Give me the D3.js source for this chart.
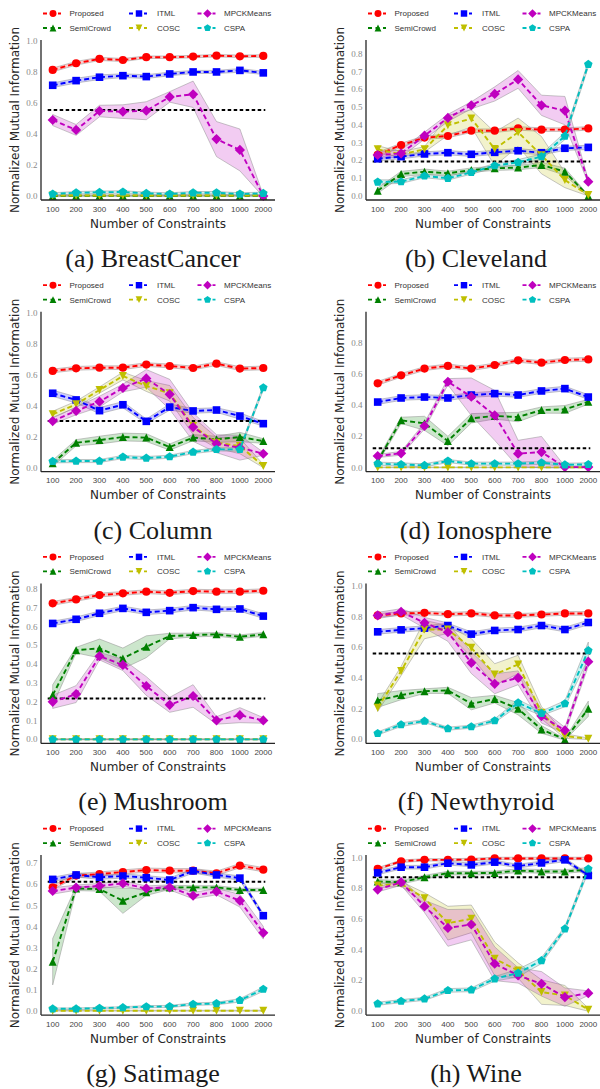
<!DOCTYPE html>
<html><head><meta charset="utf-8">
<script src="https://cdn.jsdelivr.net/npm/d3@7"></script>
<style>
html,body{margin:0;padding:0;background:#fff;}
svg{display:block;}
</style></head>
<body>
<script>
// ---------- data ----------
const categories = ["100","200","300","400","500","600","700","800","1000","2000"];
const methods = ["Proposed","SemiCrowd","ITML","COSC","MPCKMeans","CSPA"];
const methodColors = ["#ff0000","#008000","#0000ff","#bfbf00","#bf00bf","#00bfbf"];
const methodMarkers = ["circle","triangleUp","square","triangleDown","diamond","pentagon"];
const datasetNames = ["(a) BreastCancer","(b) Cleveland","(c) Column","(d) Ionosphere","(e) Mushroom","(f) Newthyroid","(g) Satimage","(h) Wine"];
const yMaxes = [1.006, 0.879, 1.006, 0.998, 0.830, 1.018, 0.739, 1.018];
const yTickSets = [
  [0,0.2,0.4,0.6,0.8,1.0],
  [0,0.1,0.2,0.3,0.4,0.5,0.6,0.7,0.8],
  [0,0.2,0.4,0.6,0.8,1.0],
  [0,0.2,0.4,0.6,0.8],
  [0,0.1,0.2,0.3,0.4,0.5,0.6,0.7,0.8],
  [0,0.2,0.4,0.6,0.8,1.0],
  [0,0.1,0.2,0.3,0.4,0.5,0.6,0.7],
  [0,0.2,0.4,0.6,0.8,1.0]
];
const baselines = [0.555, 0.195, 0.301, 0.124, 0.218, 0.561, 0.613, 0.874];

// means: order Proposed, SemiCrowd, ITML, COSC, MPCKMeans, CSPA
const breastCancerMean = [
  [0.813,0.856,0.884,0.877,0.895,0.895,0.899,0.905,0.901,0.903],
  [0.0,0.002,0.002,0.002,0.001,0.001,0.002,0.002,0.002,0.002],
  [0.714,0.744,0.766,0.776,0.770,0.787,0.800,0.800,0.810,0.794],
  [0.003,0.003,0.003,0.003,0.003,0.003,0.003,0.003,0.003,0.003],
  [0.490,0.426,0.548,0.544,0.550,0.639,0.656,0.367,0.297,0.0],
  [0.013,0.021,0.024,0.026,0.017,0.013,0.021,0.021,0.013,0.017]
];
const breastCancerStd = [
  [0.012,0.012,0.010,0.010,0.008,0.008,0.008,0.008,0.008,0.008],
  [0.004,0.004,0.004,0.004,0.004,0.004,0.004,0.004,0.004,0.004],
  [0.015,0.015,0.015,0.012,0.012,0.012,0.010,0.010,0.012,0.010],
  [0.003,0.003,0.003,0.003,0.003,0.003,0.003,0.003,0.003,0.003],
  [0.036,0.035,0.037,0.044,0.058,0.034,0.085,0.113,0.135,0.005],
  [0.008,0.008,0.008,0.008,0.008,0.008,0.008,0.008,0.008,0.008]
];
const clevelandMean = [
  [0.232,0.287,0.329,0.338,0.368,0.368,0.381,0.374,0.374,0.381],
  [0.030,0.124,0.137,0.128,0.146,0.156,0.160,0.175,0.137,0.0],
  [0.210,0.222,0.237,0.244,0.235,0.246,0.255,0.244,0.269,0.274],
  [0.263,0.235,0.263,0.398,0.437,0.265,0.359,0.230,0.090,0.005],
  [0.231,0.240,0.340,0.440,0.511,0.575,0.657,0.511,0.481,0.081],
  [0.079,0.081,0.113,0.100,0.133,0.171,0.190,0.222,0.338,0.742]
];
const clevelandStd = [
  [0.015,0.010,0.010,0.010,0.010,0.010,0.010,0.010,0.010,0.010],
  [0.015,0.015,0.015,0.012,0.012,0.012,0.012,0.015,0.020,0.005],
  [0.012,0.012,0.012,0.012,0.012,0.012,0.012,0.012,0.012,0.012],
  [0.020,0.015,0.015,0.056,0.048,0.095,0.080,0.105,0.043,0.005],
  [0.020,0.020,0.020,0.020,0.020,0.040,0.050,0.057,0.080,0.010],
  [0.012,0.010,0.010,0.010,0.010,0.012,0.015,0.015,0.020,0.015]
];
const columnMean = [
  [0.624,0.641,0.645,0.645,0.665,0.656,0.643,0.671,0.639,0.643],
  [0.028,0.161,0.178,0.198,0.194,0.133,0.194,0.183,0.198,0.172],
  [0.480,0.437,0.368,0.406,0.299,0.391,0.366,0.372,0.333,0.284],
  [0.344,0.409,0.501,0.591,0.527,0.480,0.269,0.161,0.140,0.011],
  [0.301,0.366,0.426,0.514,0.576,0.473,0.262,0.155,0.129,0.090],
  [0.041,0.043,0.043,0.069,0.062,0.071,0.101,0.118,0.118,0.516]
];
const columnStd = [
  [0.012,0.012,0.012,0.012,0.012,0.012,0.012,0.012,0.012,0.012],
  [0.020,0.020,0.025,0.025,0.025,0.020,0.020,0.020,0.030,0.015],
  [0.020,0.020,0.020,0.020,0.015,0.020,0.015,0.015,0.020,0.015],
  [0.020,0.020,0.020,0.025,0.035,0.050,0.055,0.035,0.050,0.010],
  [0.020,0.025,0.035,0.025,0.057,0.097,0.092,0.058,0.080,0.010],
  [0.010,0.010,0.010,0.010,0.010,0.010,0.010,0.010,0.012,0.015]
];
const ionosphereMean = [
  [0.540,0.591,0.634,0.651,0.634,0.657,0.687,0.672,0.689,0.693],
  [0.043,0.303,0.284,0.171,0.316,0.331,0.324,0.369,0.373,0.422],
  [0.420,0.446,0.452,0.446,0.465,0.474,0.465,0.491,0.506,0.452],
  [0.002,0.002,0.002,0.002,0.002,0.002,0.002,0.002,0.002,0.002],
  [0.075,0.092,0.267,0.550,0.454,0.335,0.090,0.100,0.004,0.004],
  [0.026,0.021,0.015,0.043,0.026,0.026,0.026,0.032,0.019,0.021]
];
const ionosphereStd = [
  [0.012,0.012,0.012,0.012,0.012,0.012,0.012,0.012,0.012,0.012],
  [0.015,0.020,0.045,0.030,0.030,0.020,0.030,0.020,0.025,0.015],
  [0.015,0.015,0.015,0.015,0.015,0.015,0.015,0.015,0.015,0.015],
  [0.002,0.002,0.002,0.002,0.002,0.002,0.002,0.002,0.002,0.002],
  [0.010,0.012,0.020,0.020,0.120,0.160,0.085,0.100,0.005,0.005],
  [0.010,0.010,0.010,0.010,0.010,0.010,0.010,0.010,0.010,0.010]
];
const mushroomMean = [
  [0.724,0.745,0.768,0.777,0.786,0.780,0.789,0.786,0.786,0.791],
  [0.236,0.475,0.484,0.431,0.493,0.550,0.555,0.559,0.546,0.559],
  [0.617,0.639,0.671,0.697,0.676,0.685,0.701,0.692,0.694,0.656],
  [0.001,0.001,0.001,0.001,0.001,0.001,0.001,0.001,0.001,0.001],
  [0.200,0.241,0.443,0.396,0.284,0.184,0.231,0.101,0.129,0.101],
  [0.0,0.0,0.0,0.0,0.0,0.0,0.0,0.0,0.0,0.0]
];
const mushroomStd = [
  [0.010,0.010,0.010,0.010,0.010,0.010,0.010,0.010,0.010,0.010],
  [0.055,0.015,0.050,0.055,0.058,0.015,0.010,0.010,0.010,0.010],
  [0.012,0.012,0.012,0.012,0.012,0.012,0.012,0.012,0.012,0.012],
  [0.002,0.002,0.002,0.002,0.002,0.002,0.002,0.002,0.002,0.002],
  [0.035,0.045,0.020,0.030,0.050,0.040,0.060,0.020,0.040,0.015],
  [0.002,0.002,0.002,0.002,0.002,0.002,0.002,0.002,0.002,0.002]
];
const newthyroidMean = [
  [0.809,0.822,0.826,0.817,0.822,0.809,0.809,0.815,0.822,0.822],
  [0.254,0.289,0.315,0.320,0.233,0.263,0.200,0.065,0.0,0.200],
  [0.702,0.715,0.726,0.743,0.687,0.711,0.717,0.743,0.717,0.763],
  [0.207,0.446,0.717,0.717,0.598,0.424,0.489,0.174,0.022,0.004],
  [0.809,0.833,0.761,0.700,0.500,0.363,0.402,0.152,0.059,0.507],
  [0.039,0.096,0.120,0.070,0.083,0.122,0.239,0.170,0.233,0.580]
];
const newthyroidStd = [
  [0.012,0.012,0.012,0.012,0.012,0.012,0.012,0.012,0.012,0.012],
  [0.045,0.030,0.015,0.020,0.040,0.025,0.040,0.025,0.005,0.050],
  [0.015,0.015,0.015,0.015,0.015,0.015,0.015,0.015,0.015,0.015],
  [0.025,0.030,0.060,0.025,0.060,0.070,0.060,0.040,0.015,0.005],
  [0.020,0.020,0.035,0.060,0.070,0.065,0.045,0.045,0.020,0.030],
  [0.010,0.012,0.010,0.010,0.010,0.012,0.020,0.015,0.020,0.055]
];
const satimageMean = [
  [0.586,0.642,0.649,0.659,0.668,0.665,0.665,0.653,0.689,0.670],
  [0.234,0.581,0.578,0.523,0.563,0.586,0.586,0.586,0.574,0.574],
  [0.624,0.645,0.634,0.640,0.632,0.621,0.664,0.645,0.630,0.452],
  [0.002,0.002,0.002,0.002,0.002,0.002,0.002,0.002,0.002,0.002],
  [0.569,0.585,0.593,0.605,0.581,0.586,0.547,0.566,0.523,0.371],
  [0.011,0.011,0.014,0.017,0.021,0.022,0.033,0.036,0.051,0.104]
];
const satimageStd = [
  [0.010,0.010,0.010,0.010,0.010,0.010,0.010,0.010,0.010,0.010],
  [0.110,0.010,0.010,0.060,0.015,0.010,0.008,0.008,0.008,0.008],
  [0.010,0.010,0.010,0.010,0.010,0.010,0.010,0.010,0.010,0.010],
  [0.002,0.002,0.002,0.002,0.002,0.002,0.002,0.002,0.002,0.002],
  [0.015,0.012,0.012,0.012,0.012,0.012,0.015,0.015,0.030,0.030],
  [0.004,0.004,0.004,0.004,0.005,0.005,0.006,0.006,0.008,0.010]
];
const wineMean = [
  [0.928,0.978,0.987,0.987,0.989,0.996,0.996,0.996,0.996,0.996],
  [0.846,0.841,0.874,0.900,0.900,0.902,0.917,0.911,0.911,0.924],
  [0.902,0.939,0.939,0.965,0.954,0.972,0.946,0.967,0.987,0.885],
  [0.820,0.830,0.737,0.574,0.602,0.341,0.265,0.124,0.102,0.009],
  [0.793,0.841,0.683,0.543,0.565,0.309,0.233,0.178,0.091,0.117],
  [0.048,0.065,0.080,0.135,0.139,0.211,0.248,0.330,0.537,0.928]
];
const wineStd = [
  [0.008,0.008,0.008,0.008,0.008,0.008,0.008,0.008,0.008,0.008],
  [0.012,0.012,0.012,0.012,0.012,0.012,0.012,0.012,0.012,0.012],
  [0.012,0.012,0.012,0.012,0.012,0.012,0.012,0.012,0.012,0.012],
  [0.015,0.015,0.035,0.110,0.090,0.110,0.050,0.080,0.065,0.010],
  [0.015,0.020,0.040,0.120,0.100,0.110,0.050,0.080,0.060,0.015],
  [0.010,0.010,0.010,0.012,0.012,0.015,0.025,0.020,0.015,0.020]
];
const allMeans = [breastCancerMean, clevelandMean, columnMean, ionosphereMean, mushroomMean, newthyroidMean, satimageMean, wineMean];
const allStds = [breastCancerStd, clevelandStd, columnStd, ionosphereStd, mushroomStd, newthyroidStd, satimageStd, wineStd];

// ---------- drawing ----------
const W = 600, H = 1089;
const svg = d3.select("body").append("svg").attr("width", W).attr("height", H);

function markerPath(type, s) {
  const p = d3.path();
  if (type === "circle") { p.arc(0, 0, 4.1 * s, 0, 2 * Math.PI); p.closePath(); }
  else if (type === "square") { const h = 3.8 * s; p.rect(-h, -h, 2 * h, 2 * h); }
  else if (type === "diamond") { const h = 5.1 * s; p.moveTo(0, -h); p.lineTo(h, 0); p.lineTo(0, h); p.lineTo(-h, 0); p.closePath(); }
  else if (type === "triangleUp") { const h = 4.0 * s; p.moveTo(0, -h); p.lineTo(h, h); p.lineTo(-h, h); p.closePath(); }
  else if (type === "triangleDown") { const h = 4.0 * s; p.moveTo(0, h); p.lineTo(h, -h); p.lineTo(-h, -h); p.closePath(); }
  else if (type === "pentagon") {
    const r = 4.5 * s;
    for (let i = 0; i < 5; i++) {
      const a = -Math.PI / 2 + i * 2 * Math.PI / 5;
      const x = r * Math.cos(a), y = r * Math.sin(a);
      if (i === 0) p.moveTo(x, y); else p.lineTo(x, y);
    }
    p.closePath();
  }
  return p.toString();
}

const rowStep = 271.7;
const plotW = 234;

datasetNames.forEach((name, idx) => {
  const col = idx % 2, row = Math.floor(idx / 2);
  const ox = col === 0 ? 41 : 366;
  const oy = row * rowStep;
  const g = svg.append("g");
  const yMax = yMaxes[idx];
  const yMin = -0.0256 * yMax;
  const x = d3.scalePoint().domain(categories).range([ox, ox + plotW]).padding(0.5);
  const y = d3.scaleLinear().domain([yMin, yMax]).range([oy + 200, oy + 40]);
  const means = allMeans[idx], stds = allStds[idx];

  // bands
  methods.forEach((m, mi) => {
    const area = d3.area()
      .x((d, i) => x(categories[i]))
      .y0((d, i) => y(d - stds[mi][i]))
      .y1((d, i) => y(d + stds[mi][i]));
    g.append("path").attr("d", area(means[mi]))
      .attr("fill", methodColors[mi]).attr("fill-opacity", 0.2)
      .attr("stroke", "#8c8c8c").attr("stroke-opacity", 0.55).attr("stroke-width", 0.9);
  });

  // baseline
  g.append("line")
    .attr("x1", x(categories[0]) - 5).attr("x2", x(categories[categories.length - 1]) + 2)
    .attr("y1", y(baselines[idx])).attr("y2", y(baselines[idx]))
    .attr("stroke", "#000").attr("stroke-width", 2).attr("stroke-dasharray", "3.5,2.5");

  // lines + markers
  methods.forEach((m, mi) => {
    const line = d3.line().x((d, i) => x(categories[i])).y(d => y(d));
    g.append("path").attr("d", line(means[mi]))
      .attr("fill", "none").attr("stroke", methodColors[mi])
      .attr("stroke-width", 1.9).attr("stroke-dasharray", "5,3");
    g.selectAll(null).data(means[mi]).enter().append("path")
      .attr("d", markerPath(methodMarkers[mi], 1))
      .attr("transform", (d, i) => `translate(${x(categories[i])},${y(d)})`)
      .attr("fill", methodColors[mi]);
  });

  // axes spines
  g.append("line").attr("x1", ox).attr("x2", ox).attr("y1", oy + 40).attr("y2", oy + 200)
    .attr("stroke", "#262626").attr("stroke-width", 1.3);
  g.append("line").attr("x1", ox).attr("x2", ox + plotW).attr("y1", oy + 200).attr("y2", oy + 200)
    .attr("stroke", "#262626").attr("stroke-width", 1.3);

  // y ticks
  g.selectAll(null).data(yTickSets[idx]).enter().append("text")
    .attr("x", ox - 3.5).attr("y", d => y(d)).attr("dy", "0.33em")
    .attr("text-anchor", "end")
    .attr("font-family", "Liberation Serif, serif").attr("font-size", 9)
    .attr("fill", "#8a8a8a")
    .text(d => d3.format(".1f")(d));
  // x ticks
  g.selectAll(null).data(categories).enter().append("text")
    .attr("x", d => x(d)).attr("y", oy + 211.5)
    .attr("text-anchor", "middle")
    .attr("font-family", "Liberation Sans, sans-serif").attr("font-size", 8)
    .attr("fill", "#444")
    .text(d => d);

  // axis titles
  g.append("text").attr("x", ox + plotW / 2).attr("y", oy + 227.5)
    .attr("text-anchor", "middle")
    .attr("font-family", "DejaVu Sans, sans-serif").attr("font-size", 12)
    .attr("fill", "#262626").text("Number of Constraints");
  g.append("text")
    .attr("transform", `translate(${ox - 22},${oy + 120}) rotate(-90)`)
    .attr("text-anchor", "middle")
    .attr("font-family", "DejaVu Sans, sans-serif").attr("font-size", 12)
    .attr("fill", "#262626").text("Normalized Mutual Information");

  // legend (3 columns x 2 rows, column-major)
  const legMX = [12, 98, 166.5], legTX = [28.5, 116, 183], legY = [13.5, 28];
  methods.forEach((m, mi) => {
    const c = Math.floor(mi / 2), r = mi % 2;
    const mx = ox + legMX[c], my = oy + legY[r];
    g.append("line").attr("x1", mx - 10).attr("x2", mx + 8).attr("y1", my).attr("y2", my)
      .attr("stroke", methodColors[mi]).attr("stroke-width", 1.8).attr("stroke-dasharray", "4,3.5");
    g.append("path").attr("d", markerPath(methodMarkers[mi], 0.85))
      .attr("transform", `translate(${mx},${my})`).attr("fill", methodColors[mi]);
    g.append("text").attr("x", ox + legTX[c]).attr("y", my).attr("dy", "0.35em")
      .attr("font-family", "Liberation Sans, sans-serif").attr("font-size", 8)
      .attr("fill", "#333").text(m);
  });

  // caption
  g.append("text").attr("x", col === 0 ? 153 : 476).attr("y", oy + 267)
    .attr("text-anchor", "middle")
    .attr("font-family", "Liberation Serif, serif").attr("font-size", 26)
    .attr("fill", "#1a1a1a").text(name);
});
</script>
</body></html>
